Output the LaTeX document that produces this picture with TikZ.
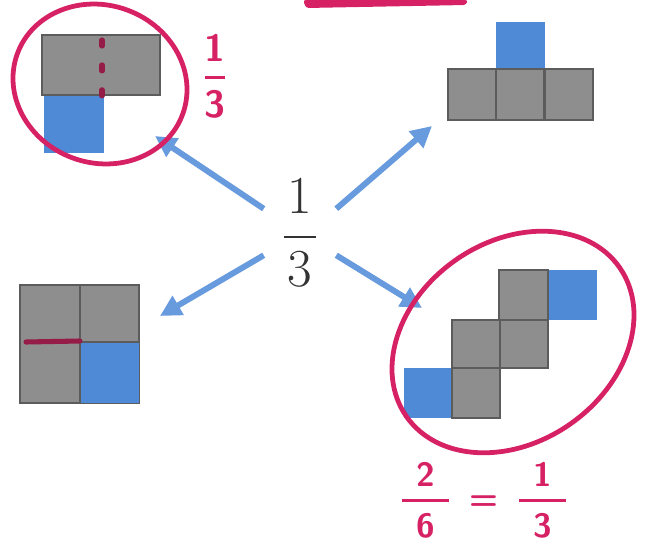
\RequirePackage{fix-cm}
\documentclass[tikz,border=0pt]{standalone}
\usepackage{amsmath}
\usepackage{xcolor}
\usepackage{tikz}
\usetikzlibrary{arrows.meta}

\definecolor{inkpink}{RGB}{214,34,100}
\definecolor{inkdark}{RGB}{150,28,72}
\definecolor{cellblue}{RGB}{78,138,214}
\definecolor{arrowblue}{RGB}{104,154,222}
\definecolor{cellgray}{RGB}{142,142,142}
\definecolor{edgegray}{RGB}{92,92,92}

\begin{document}
\begin{tikzpicture}[
  x=0.025cm, y=-0.025cm,
  gcell/.style={fill=cellgray, draw=edgegray, line width=1pt},
  bcell/.style={fill=cellblue},
  arrow/.style={-{Triangle[length=15pt, width=15pt]}, line width=4.2pt, draw=arrowblue},
  ring/.style={draw=inkpink, line width=3.4pt},
  hand/.style={text=inkpink, inner sep=0pt},
  pen/.style={draw=inkdark, line width=3.6pt, line cap=round},
]
\useasboundingbox (0,0) rectangle (645,545);

% central fraction
\node[text=black!80, font=\fontsize{38}{40}\selectfont, text height=1.025cm, text depth=0.125cm,
  minimum width=1.8cm, inner sep=0pt] (frac) at (300,232)
  {$\genfrac{}{}{1.4pt}{0}{\makebox[0.6em]{1}}{3}$};

\coordinate (tipA) at (155,136);
\coordinate (tipB) at (432,126);
\coordinate (tipC) at (160,316);
\coordinate (tipD) at (422,308);

\draw[arrow] (frac.north west) -- (tipA);
\draw[arrow] (frac.north east) -- (tipB);
\draw[arrow] (frac.south west) -- (tipC);
\draw[arrow] (frac.south east) -- (tipD);

% top left
\fill[bcell] (44,95) rectangle (104,153);
\draw[gcell] (42,35) rectangle (160,95);
\draw[pen, dash pattern=on 4.3pt off 13.4pt] (102,40) -- (102,96);
\draw[ring, rotate around={-20:(100,84)}] (100,84) ellipse [x radius=2.2cm, y radius=1.97cm];
\node[hand, font=\fontsize{27}{29}\selectfont\sffamily\bfseries] (tlLabel) at (215,76)
  {$\genfrac{}{}{2.5pt}{0}{\textsf{1}}{\textsf{3}}$};

% top right
\fill[bcell] (496,22) rectangle (545,69);
\foreach \x in {448,496,545}
  \draw[gcell] (\x,69) rectangle ++(48,51);

% bottom left
\draw[gcell] (20,285) rectangle (139,403);
\fill[bcell] (80,342) rectangle (139,403);
\draw[edgegray, line width=1pt] (80,285) -- (80,403) (80,342) -- (139,342);
\draw[pen] (26,342) -- (80,341);

% bottom right
\fill[bcell] (548,270) rectangle ++(49,50);
\draw[gcell] (499,270) rectangle ++(49,50);
\draw[gcell] (452,320) rectangle ++(48,48);
\draw[gcell] (500,320) rectangle ++(48,48);
\fill[bcell] (404,368) rectangle ++(48,50);
\draw[gcell] (452,368) rectangle ++(48,50);
\draw[ring, rotate around={35:(513,342)}] (513,342) ellipse [x radius=3.25cm, y radius=2.5cm];
\node[hand, font=\fontsize{24}{26}\selectfont\sffamily\bfseries] (brLabel) at (484,500)
  {$\genfrac{}{}{2.5pt}{0}{\makebox[1.4em]{\textsf{2}}}{\textsf{6}}\;\;\textsf{=}\;\;\genfrac{}{}{2.5pt}{0}{\makebox[1.4em]{\textsf{1}}}{\textsf{3}}$};

% cut-off mark at top
\fill[inkpink, rounded corners=2pt] (303,0) -- (468,0) -- (466,5) -- (306,8) -- cycle;
\end{tikzpicture}
\end{document}
